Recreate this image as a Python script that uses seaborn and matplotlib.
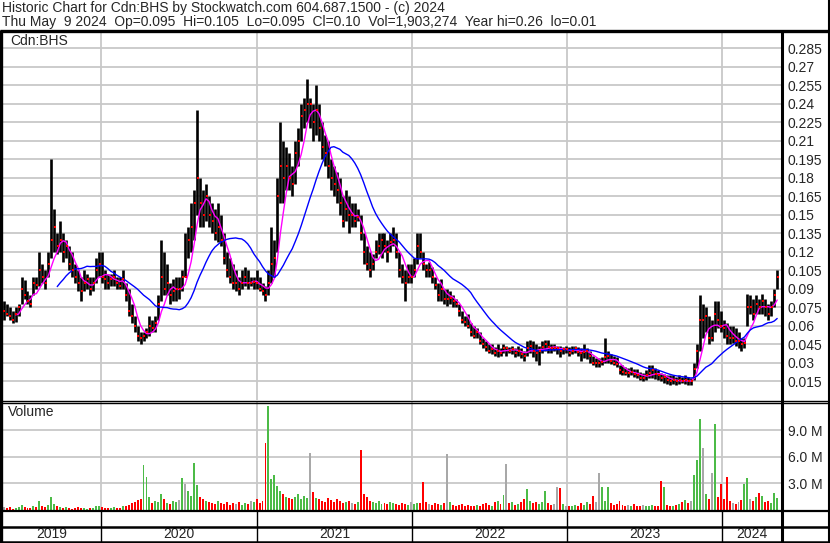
import numpy as np
import pandas as pd
import matplotlib
matplotlib.use("Agg")
import matplotlib.pyplot as plt
from matplotlib.lines import Line2D
import seaborn as sns

# ---------------- data (weekly bars, CAD) ----------------
week_lo = [
    .065, .068, .065, .062, .063, .068, .078, .082, .078, .075,
    .085, .090, .092, .095, .090, .100, .115, .120, .118, .120,
    .112, .115, .105, .100, .095, .088, .080, .088, .090, .085,
    .088, .095, .100, .095, .090, .090, .092, .092, .090, .090,
    .090, .080, .068, .062, .055, .048, .045, .048, .050, .052,
    .055, .055, .065, .080, .085, .085, .078, .080, .080, .082,
    .088, .100, .115, .120, .130, .150, .140, .140, .145, .140,
    .135, .130, .128, .125, .110, .100, .095, .090, .088, .085,
    .090, .092, .090, .092, .090, .090, .088, .085, .080, .085,
    .095, .100, .120, .160, .160, .170, .170, .165, .175, .190,
    .210, .220, .225, .220, .210, .215, .210, .195, .190, .180,
    .170, .165, .160, .150, .140, .145, .135, .140, .140, .145,
    .130, .110, .105, .100, .105, .115, .118, .115, .120, .112,
    .120, .125, .115, .100, .095, .080, .095, .095, .100, .110,
    .115, .105, .100, .100, .095, .090, .080, .080, .078, .076,
    .078, .075, .075, .068, .062, .060, .058, .052, .050, .050,
    .045, .042, .040, .038, .037, .036, .035, .036, .038, .036,
    .038, .037, .035, .036, .034, .032, .036, .038, .035, .032,
    .028, .038, .040, .038, .038, .040, .037, .035, .037, .038,
    .036, .037, .038, .036, .032, .034, .033, .030, .028, .027,
    .027, .028, .030, .030, .029, .028, .027, .021, .020, .020,
    .019, .020, .019, .018, .016, .015, .016, .018, .018, .017,
    .016, .015, .014, .013, .012, .013, .012, .013, .014, .013,
    .012, .012, .016, .026, .040, .050, .055, .045, .048, .055,
    .058, .055, .050, .045, .045, .046, .044, .042, .040, .042,
    .060, .070, .065, .070, .070, .070, .068, .065, .068, .075,
    .090,
]
week_hi = [
    .080, .078, .075, .072, .075, .078, .100, .097, .088, .085,
    .100, .100, .120, .110, .105, .120, .195, .155, .135, .145,
    .135, .130, .125, .120, .110, .105, .100, .105, .102, .100,
    .100, .115, .120, .120, .105, .102, .102, .105, .100, .100,
    .105, .095, .090, .078, .068, .060, .055, .055, .058, .068,
    .065, .068, .085, .130, .120, .110, .095, .098, .100, .100,
    .105, .135, .140, .160, .170, .235, .180, .170, .175, .165,
    .160, .155, .160, .150, .135, .120, .115, .110, .105, .100,
    .105, .108, .105, .100, .100, .105, .100, .095, .092, .105,
    .140, .130, .180, .225, .210, .205, .200, .190, .210, .220,
    .240, .245, .260, .245, .240, .255, .240, .225, .215, .210,
    .195, .190, .185, .180, .165, .170, .165, .160, .160, .155,
    .150, .135, .125, .120, .118, .130, .135, .135, .135, .130,
    .135, .140, .135, .120, .110, .105, .110, .110, .115, .135,
    .135, .120, .110, .112, .108, .100, .095, .098, .090, .090,
    .088, .085, .082, .078, .072, .068, .070, .062, .060, .058,
    .055, .050, .048, .045, .045, .043, .045, .042, .045, .044,
    .043, .044, .042, .044, .042, .040, .048, .049, .048, .045,
    .044, .048, .049, .049, .045, .045, .044, .044, .043, .044,
    .043, .044, .044, .043, .042, .045, .042, .040, .036, .034,
    .034, .035, .050, .040, .037, .036, .035, .028, .028, .027,
    .026, .027, .025, .025, .023, .022, .024, .028, .028, .026,
    .024, .022, .021, .020, .020, .020, .019, .020, .019, .020,
    .019, .018, .030, .045, .085, .078, .075, .068, .065, .080,
    .080, .072, .065, .062, .060, .060, .058, .055, .050, .050,
    .086, .085, .082, .085, .082, .086, .082, .078, .080, .090,
    .105,
]
week_close = [
    .072, .070, .068, .065, .070, .075, .090, .085, .080, .078,
    .095, .093, .105, .100, .095, .110, .130, .140, .125, .130,
    .120, .125, .110, .105, .100, .095, .088, .095, .098, .090,
    .095, .105, .110, .100, .098, .095, .098, .100, .095, .092,
    .098, .085, .072, .068, .060, .052, .050, .052, .055, .060,
    .058, .062, .078, .100, .090, .095, .085, .088, .090, .090,
    .100, .100, .130, .140, .160, .180, .160, .150, .165, .150,
    .145, .135, .140, .130, .115, .105, .100, .095, .095, .090,
    .095, .100, .095, .095, .096, .095, .090, .088, .085, .095,
    .110, .115, .165, .190, .180, .190, .180, .175, .200, .210,
    .230, .235, .240, .240, .225, .235, .220, .205, .200, .190,
    .180, .175, .170, .160, .145, .155, .150, .150, .145, .148,
    .135, .120, .110, .105, .110, .120, .125, .130, .125, .120,
    .128, .130, .120, .105, .100, .095, .100, .100, .105, .125,
    .120, .110, .105, .105, .100, .093, .085, .090, .082, .082,
    .083, .080, .078, .072, .065, .063, .060, .055, .052, .055,
    .048, .045, .043, .040, .041, .038, .040, .038, .042, .042,
    .040, .041, .038, .040, .037, .036, .042, .044, .040, .038,
    .040, .043, .045, .043, .042, .042, .042, .040, .041, .041,
    .038, .040, .042, .039, .038, .039, .040, .036, .030, .030,
    .030, .031, .035, .036, .032, .030, .029, .024, .023, .022,
    .022, .023, .021, .020, .018, .018, .020, .022, .024, .021,
    .020, .018, .019, .016, .015, .016, .015, .016, .015, .016,
    .015, .015, .025, .040, .065, .065, .068, .050, .050, .070,
    .065, .060, .058, .052, .050, .050, .048, .048, .045, .046,
    .075, .075, .070, .078, .075, .080, .075, .070, .075, .085,
    .100,
]
week_volume_m = [
    .3, .2, .35, .15, .25, .3, .6, .3, .2, .25,
    .4, .3, 1.0, .5, .3, .6, 1.5, .7, .4, .3,
    .25, .3, .2, .15, .2, .3, .25, .2, .15, .2,
    .25, .5, .4, .3, .2, .25, .2, .3, .2, .25,
    .4, .5, .6, .8, .9, 1.1, 1.2, 5.1, 3.7, 1.5,
    .8, 1.0, .9, 1.8, 1.2, .8, .7, 1.0, .9, 1.1,
    3.6, 2.9, 2.2, 1.6, 5.3, 2.8, 1.5, 1.2, 1.0, .9,
    .8, .7, 1.0, .8, .7, .9, .6, .8, .7, .9,
    .6, .8, .7, 1.0, .9, 1.2, .8, 1.0, 7.6, 11.8,
    3.5, 4.0, 2.7, 2.2, 1.8, 1.5, 1.3, 1.2, 1.5, 1.8,
    1.2, 1.6, 1.4, 6.4, 2.0, 1.4, 1.2, 1.0, .9, 1.3,
    1.1, .9, 1.2, 1.0, .8, .9, 1.0, .8, .7, .9,
    6.8, 1.8, 1.5, 1.0, .9, .8, 1.0, .7, .8, .7,
    .9, .8, .7, .6, .8, .7, .6, .9, .7, .8,
    .8, 3.2, .9, .7, .6, .8, .7, .6, .8, 6.3,
    .9, .6, .5, .6, .7, .5, .6, .4, .5, .6,
    .5, .7, .8, .6, .5, .9, 1.0, .7, 1.7, 5.2,
    .8, .9, .6, .7, .9, 1.2, 2.4, 1.0, .8, .9,
    .7, .9, 2.1, .8, .6, .7, 2.6, 2.5, .7, .5,
    .4, .5, .6, .5, .8, .6, .9, .7, 1.6, .9,
    4.2, 2.6, 1.0, 2.65, .8, .6, .7, 1.0, .6, .5,
    .6, .5, .7, .4, .5, .6, .5, .4, .6, .5,
    .4, 3.3, 2.6, .6, .5, .4, .6, .7, .9, 1.1,
    .8, 1.0, 4.0, 5.7, 10.3, 7.0, 1.8, 1.2, 4.2, 9.7,
    1.5, 2.9, 1.2, 3.7, 1.0, .8, .7, .9, 1.1, 2.9,
    3.6, 1.2, 1.0, 1.5, 1.9, 1.6, .9, 1.0, .8, 1.9,
    1.3,
]
last_date = "2024-05-09"
year_labels = ["2019", "2020", "2021", "2022", "2023", "2024"]
price_ticks = [0.015, 0.03, 0.045, 0.06, 0.075, 0.09, 0.105, 0.12, 0.135, 0.15,
               0.165, 0.18, 0.195, 0.21, 0.225, 0.24, 0.255, 0.27, 0.285]
volume_ticks_m = [3.0, 6.0, 9.0]
title_line1 = "Historic Chart for Cdn:BHS by Stockwatch.com 604.687.1500 - (c) 2024"
title_line2 = ("Thu May  9 2024  Op=0.095  Hi=0.105  Lo=0.095  Cl=0.10  "
               "Vol=1,903,274  Year hi=0.26  lo=0.01")
symbol = "Cdn:BHS"

# ---------------- frame ----------------
dates = pd.date_range(end=last_date, periods=len(week_close), freq="7D")
df = pd.DataFrame({"date": dates, "lo": week_lo, "hi": week_hi,
                   "close": week_close, "vol": week_volume_m})
df["ma_fast"] = df["close"].rolling(5).mean()
df["ma_slow"] = df["close"].rolling(19).mean()
chg = df["close"].diff().fillna(0).round(6)
df["vcol"] = np.where(chg > 0, "#4cbb47", np.where(chg < 0, "#ff0000", "#a8a8a8"))

sns.set_style("white")
plt.rcParams["font.family"] = ["Liberation Sans", "DejaVu Sans"]
plt.rcParams["font.size"] = 10

W, H = 830, 543
fig = plt.figure(figsize=(W / 100, H / 100), dpi=100)


def rect(x0, y0, x1, y1):
    return [x0 / W, 1 - y1 / H, (x1 - x0) / W, (y1 - y0) / H]


def fline(xs, ys, lw=1.0, color="black"):
    fig.add_artist(Line2D([x / W for x in xs], [1 - y / H for y in ys],
                          lw=lw, color=color, transform=fig.transFigure,
                          solid_capstyle="butt"))


xmin = pd.Timestamp("2019-05-12")
xmax = pd.Timestamp("2024-05-18")
year_starts = [pd.Timestamp(f"{y}-01-01") for y in range(2020, 2025)]
grid_c = "#c8c8c8"

# price panel
ax = fig.add_axes(rect(2, 31, 781, 400))
ax.set_xlim(xmin, xmax)
ax.set_ylim(0, 0.299)
ax.set_axisbelow(True)
ax.set_yticks(price_ticks)
ax.set_yticklabels([f"{t:.3f}".rstrip("0") for t in price_ticks])
ax.yaxis.tick_right()
ax.tick_params(axis="y", length=0, pad=5, labelsize=10)
ax.set_xticks(year_starts)
ax.tick_params(axis="x", length=0, labelbottom=False)
ax.grid(True, color=grid_c, lw=1.3)
for s in ax.spines.values():
    s.set_visible(False)
ax.vlines(df["date"], df["lo"], df["hi"], color="black", lw=1.9, zorder=2)
ax.scatter(df["date"] + pd.Timedelta(days=1.5), df["close"], marker="s", s=3.0,
           color="red", linewidths=0, zorder=5)
sns.lineplot(data=df, x="date", y="ma_fast", ax=ax, color="#ff00ff", lw=1.0, zorder=3)
sns.lineplot(data=df, x="date", y="ma_slow", ax=ax, color="#0000ff", lw=1.0, zorder=3)
ax.set_xlabel("")
ax.set_ylabel("")
ax.text(8 / 779, 1 - 3 / 369, symbol, transform=ax.transAxes, va="top",
        ha="left", fontsize=10)

# volume panel
av = fig.add_axes(rect(2, 402, 781, 510))
av.set_xlim(xmin, xmax)
av.set_ylim(0, 12.2)
av.set_axisbelow(True)
av.set_yticks(volume_ticks_m)
av.set_yticklabels([f"{v:.1f} M" for v in volume_ticks_m])
av.yaxis.tick_right()
av.tick_params(axis="y", length=0, pad=5, labelsize=10)
av.set_xticks(year_starts)
av.tick_params(axis="x", length=0, labelbottom=False)
av.grid(True, color=grid_c, lw=1.3)
for s in av.spines.values():
    s.set_visible(False)
av.bar(df["date"], df["vol"], width=4.6, color=df["vcol"], linewidth=0, zorder=2)
av.text(6 / 779, 1 - 3 / 108, "Volume", transform=av.transAxes, va="top",
        ha="left", fontsize=10)

# date band
ad = fig.add_axes(rect(2, 510, 781, 542))
ad.set_xlim(xmin, xmax)
ad.set_ylim(0, 1)
ad.axis("off")
bounds = [xmin] + year_starts + [pd.Timestamp("2024-05-17")]
for i, lab in enumerate(year_labels):
    mid = bounds[i] + (bounds[i + 1] - bounds[i]) / 2
    ad.text(mid, 0.24, lab, ha="center", va="center", fontsize=10)
for ys in year_starts:
    ad.axvline(ys, color="black", lw=1.0)

# frame lines (pixel coordinates)
fline([0, 830], [31, 31], lw=2.4)
fline([1, 1], [30, 543], lw=2.4)
fline([782, 782], [30, 543], lw=2.2)
fline([828.5, 828.5], [0, 543], lw=1.5)
fline([0, 830], [400.5, 400.5], lw=1.0)
fline([0, 830], [402.8, 402.8], lw=1.0)
fline([0, 830], [510.5, 510.5], lw=1.6)
fline([0, 830], [527, 527], lw=1.8)
fline([0, 830], [542, 542], lw=1.8)

fig.text(2 / W, 1 - 1 / H, title_line1, va="top", ha="left", fontsize=10)
fig.text(2 / W, 1 - 15 / H, title_line2, va="top", ha="left", fontsize=10)

fig.savefig("out.png", dpi=100)
